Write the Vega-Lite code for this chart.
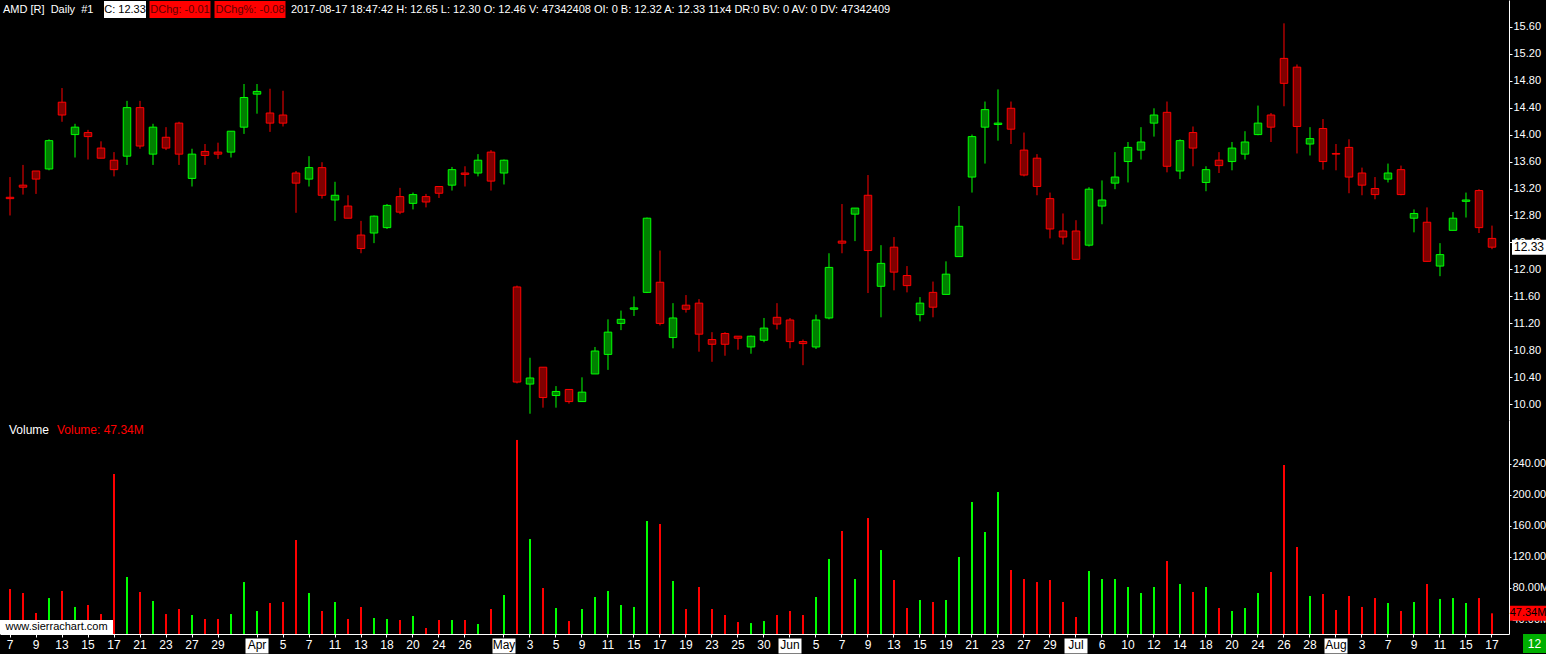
{
"$schema": "https://vega.github.io/schema/vega-lite/v6.json",
"background": "#000000",
"padding": 0,
"spacing": 0,
"config": {
  "font": "Liberation Sans",
  "view": {"stroke": null},
  "axis": {"domainColor": "#FFFFFF", "tickColor": "#FFFFFF", "labelColor": "#FFFFFF", "labelFontSize": 11, "grid": false, "domainWidth": 1, "tickWidth": 1, "titleColor": "#FFFFFF"}
},
"datasets": {"ohlc": [
{"d":"2017-03-07","o":13.07,"h":13.37,"l":12.80,"c":13.05,"v":78.6},
{"d":"2017-03-08","o":13.25,"h":13.55,"l":13.11,"c":13.22,"v":73.5},
{"d":"2017-03-09","o":13.46,"h":13.46,"l":13.12,"c":13.34,"v":47.7},
{"d":"2017-03-10","o":13.49,"h":13.93,"l":13.47,"c":13.91,"v":67.0},
{"d":"2017-03-13","o":14.48,"h":14.69,"l":14.19,"c":14.29,"v":76.1},
{"d":"2017-03-14","o":14.00,"h":14.16,"l":13.66,"c":14.11,"v":55.5},
{"d":"2017-03-15","o":14.03,"h":14.07,"l":13.63,"c":13.97,"v":58.0},
{"d":"2017-03-16","o":13.80,"h":13.90,"l":13.65,"c":13.65,"v":46.4},
{"d":"2017-03-17","o":13.62,"h":13.74,"l":13.38,"c":13.48,"v":226.7},
{"d":"2017-03-20","o":13.68,"h":14.50,"l":13.55,"c":14.40,"v":94.1},
{"d":"2017-03-21","o":14.40,"h":14.50,"l":13.79,"c":13.83,"v":74.8},
{"d":"2017-03-22","o":13.71,"h":14.16,"l":13.55,"c":14.11,"v":63.2},
{"d":"2017-03-23","o":13.96,"h":14.11,"l":13.77,"c":13.80,"v":46.4},
{"d":"2017-03-24","o":14.17,"h":14.19,"l":13.55,"c":13.71,"v":52.9},
{"d":"2017-03-27","o":13.35,"h":13.79,"l":13.23,"c":13.71,"v":45.2},
{"d":"2017-03-28","o":13.75,"h":13.86,"l":13.55,"c":13.69,"v":40.0},
{"d":"2017-03-29","o":13.74,"h":13.88,"l":13.64,"c":13.71,"v":40.0},
{"d":"2017-03-30","o":13.74,"h":14.05,"l":13.66,"c":14.05,"v":46.4},
{"d":"2017-03-31","o":14.11,"h":14.75,"l":14.01,"c":14.55,"v":87.6},
{"d":"2017-04-03","o":14.60,"h":14.75,"l":14.31,"c":14.64,"v":50.3},
{"d":"2017-04-04","o":14.32,"h":14.68,"l":14.04,"c":14.17,"v":60.6},
{"d":"2017-04-05","o":14.29,"h":14.65,"l":14.12,"c":14.17,"v":61.9},
{"d":"2017-04-06","o":13.43,"h":13.46,"l":12.84,"c":13.28,"v":141.7},
{"d":"2017-04-07","o":13.34,"h":13.68,"l":13.23,"c":13.51,"v":73.5},
{"d":"2017-04-10","o":13.51,"h":13.59,"l":13.05,"c":13.10,"v":50.3},
{"d":"2017-04-11","o":13.03,"h":13.30,"l":12.72,"c":13.10,"v":61.9},
{"d":"2017-04-12","o":12.94,"h":13.10,"l":12.76,"c":12.76,"v":40.0},
{"d":"2017-04-13","o":12.51,"h":12.72,"l":12.24,"c":12.31,"v":55.5},
{"d":"2017-04-17","o":12.54,"h":12.80,"l":12.39,"c":12.79,"v":41.3},
{"d":"2017-04-18","o":12.62,"h":12.97,"l":12.60,"c":12.95,"v":40.0},
{"d":"2017-04-19","o":13.08,"h":13.21,"l":12.82,"c":12.85,"v":38.7},
{"d":"2017-04-20","o":12.98,"h":13.14,"l":12.89,"c":13.11,"v":43.9},
{"d":"2017-04-21","o":13.08,"h":13.12,"l":12.92,"c":13.00,"v":28.4},
{"d":"2017-04-24","o":13.23,"h":13.23,"l":13.06,"c":13.13,"v":38.7},
{"d":"2017-04-25","o":13.25,"h":13.52,"l":13.17,"c":13.48,"v":38.7},
{"d":"2017-04-26","o":13.43,"h":13.53,"l":13.23,"c":13.41,"v":38.7},
{"d":"2017-04-27","o":13.43,"h":13.71,"l":13.38,"c":13.62,"v":33.6},
{"d":"2017-04-28","o":13.74,"h":13.77,"l":13.17,"c":13.31,"v":52.9},
{"d":"2017-05-01","o":13.43,"h":13.63,"l":13.26,"c":13.62,"v":70.9},
{"d":"2017-05-02","o":11.74,"h":11.76,"l":10.31,"c":10.33,"v":270.5},
{"d":"2017-05-03","o":10.30,"h":10.69,"l":9.86,"c":10.39,"v":143.0},
{"d":"2017-05-04","o":10.55,"h":10.55,"l":9.95,"c":10.10,"v":79.9},
{"d":"2017-05-05","o":10.13,"h":10.27,"l":9.95,"c":10.19,"v":54.2},
{"d":"2017-05-08","o":10.22,"h":10.22,"l":10.01,"c":10.04,"v":37.4},
{"d":"2017-05-09","o":10.04,"h":10.40,"l":10.04,"c":10.18,"v":52.9},
{"d":"2017-05-10","o":10.45,"h":10.85,"l":10.45,"c":10.79,"v":68.3},
{"d":"2017-05-11","o":10.74,"h":11.26,"l":10.51,"c":11.07,"v":76.1},
{"d":"2017-05-12","o":11.20,"h":11.39,"l":11.10,"c":11.26,"v":58.0},
{"d":"2017-05-15","o":11.41,"h":11.60,"l":11.31,"c":11.43,"v":55.5},
{"d":"2017-05-16","o":11.66,"h":12.77,"l":11.65,"c":12.76,"v":166.2},
{"d":"2017-05-17","o":11.81,"h":12.28,"l":11.17,"c":11.20,"v":162.3},
{"d":"2017-05-18","o":10.99,"h":11.50,"l":10.83,"c":11.28,"v":88.9},
{"d":"2017-05-19","o":11.47,"h":11.62,"l":11.36,"c":11.41,"v":52.9},
{"d":"2017-05-22","o":11.50,"h":11.56,"l":10.78,"c":11.04,"v":81.2},
{"d":"2017-05-23","o":10.96,"h":11.07,"l":10.63,"c":10.89,"v":52.9},
{"d":"2017-05-24","o":11.05,"h":11.07,"l":10.72,"c":10.89,"v":45.2},
{"d":"2017-05-25","o":11.01,"h":11.01,"l":10.81,"c":10.98,"v":36.1},
{"d":"2017-05-26","o":10.85,"h":11.02,"l":10.75,"c":11.01,"v":34.8},
{"d":"2017-05-30","o":10.95,"h":11.28,"l":10.92,"c":11.13,"v":37.4},
{"d":"2017-05-31","o":11.29,"h":11.50,"l":11.11,"c":11.19,"v":45.2},
{"d":"2017-06-01","o":11.25,"h":11.28,"l":10.83,"c":10.93,"v":50.3},
{"d":"2017-06-02","o":10.93,"h":10.96,"l":10.58,"c":10.90,"v":45.2},
{"d":"2017-06-05","o":10.85,"h":11.33,"l":10.82,"c":11.25,"v":68.3},
{"d":"2017-06-06","o":11.28,"h":12.24,"l":11.26,"c":12.03,"v":117.3},
{"d":"2017-06-07","o":12.42,"h":12.97,"l":12.24,"c":12.39,"v":153.3},
{"d":"2017-06-08","o":12.82,"h":12.91,"l":12.42,"c":12.91,"v":91.5},
{"d":"2017-06-09","o":13.10,"h":13.40,"l":11.65,"c":12.28,"v":170.0},
{"d":"2017-06-12","o":11.75,"h":12.36,"l":11.29,"c":12.09,"v":128.8},
{"d":"2017-06-13","o":12.33,"h":12.48,"l":11.69,"c":11.96,"v":90.2},
{"d":"2017-06-14","o":11.91,"h":12.05,"l":11.66,"c":11.76,"v":54.2},
{"d":"2017-06-15","o":11.33,"h":11.59,"l":11.23,"c":11.50,"v":64.5},
{"d":"2017-06-16","o":11.66,"h":11.82,"l":11.29,"c":11.44,"v":61.9},
{"d":"2017-06-19","o":11.63,"h":12.12,"l":11.63,"c":11.93,"v":64.5},
{"d":"2017-06-20","o":12.19,"h":12.94,"l":12.19,"c":12.64,"v":119.8},
{"d":"2017-06-21","o":13.37,"h":14.00,"l":13.14,"c":13.97,"v":190.6},
{"d":"2017-06-22","o":14.11,"h":14.49,"l":13.57,"c":14.37,"v":152.0},
{"d":"2017-06-23","o":14.15,"h":14.67,"l":13.91,"c":14.17,"v":203.5},
{"d":"2017-06-26","o":14.39,"h":14.49,"l":13.86,"c":14.08,"v":103.1},
{"d":"2017-06-27","o":13.77,"h":14.03,"l":13.38,"c":13.40,"v":91.5},
{"d":"2017-06-28","o":13.65,"h":13.71,"l":13.10,"c":13.23,"v":87.6},
{"d":"2017-06-29","o":13.05,"h":13.14,"l":12.46,"c":12.60,"v":90.2},
{"d":"2017-06-30","o":12.57,"h":12.83,"l":12.37,"c":12.48,"v":61.9},
{"d":"2017-07-03","o":12.57,"h":12.73,"l":12.15,"c":12.15,"v":42.6},
{"d":"2017-07-05","o":12.36,"h":13.22,"l":12.34,"c":13.19,"v":101.8},
{"d":"2017-07-06","o":12.94,"h":13.32,"l":12.67,"c":13.03,"v":91.5},
{"d":"2017-07-07","o":13.28,"h":13.74,"l":13.19,"c":13.37,"v":91.5},
{"d":"2017-07-10","o":13.60,"h":13.89,"l":13.29,"c":13.81,"v":81.2},
{"d":"2017-07-11","o":13.77,"h":14.11,"l":13.63,"c":13.89,"v":73.5},
{"d":"2017-07-12","o":14.17,"h":14.39,"l":13.97,"c":14.29,"v":81.2},
{"d":"2017-07-13","o":14.33,"h":14.49,"l":13.44,"c":13.53,"v":114.7},
{"d":"2017-07-14","o":13.46,"h":13.93,"l":13.34,"c":13.91,"v":85.1},
{"d":"2017-07-17","o":14.03,"h":14.12,"l":13.53,"c":13.80,"v":74.8},
{"d":"2017-07-18","o":13.29,"h":13.53,"l":13.16,"c":13.48,"v":81.2},
{"d":"2017-07-19","o":13.62,"h":13.74,"l":13.43,"c":13.54,"v":54.2},
{"d":"2017-07-20","o":13.60,"h":13.89,"l":13.47,"c":13.80,"v":50.3},
{"d":"2017-07-21","o":13.71,"h":14.05,"l":13.63,"c":13.89,"v":54.2},
{"d":"2017-07-24","o":14.00,"h":14.43,"l":13.99,"c":14.17,"v":73.5},
{"d":"2017-07-25","o":14.29,"h":14.32,"l":13.89,"c":14.11,"v":100.5},
{"d":"2017-07-26","o":15.13,"h":15.65,"l":14.42,"c":14.76,"v":238.3},
{"d":"2017-07-27","o":15.00,"h":15.04,"l":13.72,"c":14.12,"v":132.7},
{"d":"2017-07-28","o":13.86,"h":14.11,"l":13.69,"c":13.94,"v":69.6},
{"d":"2017-07-31","o":14.09,"h":14.23,"l":13.48,"c":13.60,"v":72.2},
{"d":"2017-08-01","o":13.72,"h":13.86,"l":13.47,"c":13.71,"v":51.6},
{"d":"2017-08-02","o":13.81,"h":13.93,"l":13.13,"c":13.37,"v":69.6},
{"d":"2017-08-03","o":13.43,"h":13.51,"l":13.10,"c":13.25,"v":55.5},
{"d":"2017-08-04","o":13.20,"h":13.37,"l":13.04,"c":13.11,"v":67.0},
{"d":"2017-08-07","o":13.34,"h":13.57,"l":13.29,"c":13.43,"v":60.6},
{"d":"2017-08-08","o":13.48,"h":13.54,"l":13.10,"c":13.11,"v":50.3},
{"d":"2017-08-09","o":12.76,"h":12.89,"l":12.55,"c":12.83,"v":61.9},
{"d":"2017-08-10","o":12.70,"h":12.92,"l":12.12,"c":12.12,"v":85.1},
{"d":"2017-08-11","o":12.05,"h":12.39,"l":11.90,"c":12.22,"v":65.8},
{"d":"2017-08-14","o":12.58,"h":12.85,"l":12.58,"c":12.76,"v":67.0},
{"d":"2017-08-15","o":13.01,"h":13.14,"l":12.77,"c":13.03,"v":60.6},
{"d":"2017-08-16","o":13.17,"h":13.19,"l":12.54,"c":12.62,"v":67.0},
{"d":"2017-08-17","o":12.46,"h":12.65,"l":12.30,"c":12.33,"v":47.34}
]},
"vconcat": [
{
  "width": 1509,
  "height": 420,
  "data": {"name": "ohlc"},
  "encoding": {
    "x": {"field": "d", "type": "ordinal", "scale": {"paddingInner": 0.423, "paddingOuter": 0.75, "align": 0.3205}, "axis": null}
  },
  "layer": [
    {
      "mark": {"type": "rule", "strokeWidth": 1},
      "encoding": {
        "y": {"field": "l", "type": "quantitative", "scale": {"domain": [9.767, 15.996], "nice": false, "zero": false},
              "axis": {"orient": "right", "values": [10, 10.4, 10.8, 11.2, 11.6, 12, 12.4, 12.8, 13.2, 13.6, 14, 14.4, 14.8, 15.2, 15.6], "tickCount": 30, "format": ".2f", "tickSize": 3, "labelPadding": 1, "labelOverlap": false, "title": null}},
        "y2": {"field": "h"},
        "color": {"condition": {"test": "datum.c < datum.o", "value": "#FF0000"}, "value": "#00FF00"}
      }
    },
    {
      "mark": {"type": "bar", "strokeWidth": 1},
      "encoding": {
        "y": {"field": "o", "type": "quantitative"},
        "y2": {"field": "c"},
        "fill": {"condition": {"test": "datum.c < datum.o", "value": "#800000"}, "value": "#008000"},
        "stroke": {"condition": {"test": "datum.c < datum.o", "value": "#FF0000"}, "value": "#00FF00"}
      }
    },
    {
      "transform": [{"filter": "datum.d == '2017-08-17'"}],
      "mark": {"type": "point", "shape": "M-1,-0.44 L1,-0.44 L1,0.44 L-1,0.44 Z", "size": 1156, "filled": true, "fill": "#FFFFFF", "opacity": 1, "strokeWidth": 0, "xOffset": 37},
      "encoding": {"y": {"field": "c", "type": "quantitative"}}
    },
    {
      "transform": [{"filter": "datum.d == '2017-08-17'"}],
      "mark": {"type": "text", "color": "#000000", "fontSize": 12, "xOffset": 37, "align": "center", "baseline": "middle"},
      "encoding": {"y": {"field": "c", "type": "quantitative"}, "text": {"field": "c", "type": "quantitative", "format": ".2f"}}
    },
    {
      "transform": [{"filter": "datum.d == '2017-03-07'"}],
      "mark": {"type": "text", "color": "#FFFFFF", "fontSize": 11, "xOffset": -7, "yOffset": 9.5, "align": "left", "baseline": "middle", "text": "AMD [R]\u00a0\u00a0Daily\u00a0\u00a0#1"},
      "encoding": {"y": {"datum": 15.996}}
    },
    {
      "transform": [{"filter": "datum.d == '2017-03-07'"}],
      "mark": {"type": "point", "shape": "M-1,-0.41 L1,-0.41 L1,0.41 L-1,0.41 Z", "size": 1764, "filled": true, "fill": "#FFFFFF", "opacity": 1, "strokeWidth": 0, "xOffset": 115, "yOffset": 9.5},
      "encoding": {"y": {"datum": 15.996}}
    },
    {
      "transform": [{"filter": "datum.d == '2017-03-07'"}],
      "mark": {"type": "text", "color": "#000000", "fontSize": 11, "xOffset": 115, "yOffset": 9.5, "align": "center", "baseline": "middle", "text": "C: 12.33"},
      "encoding": {"y": {"datum": 15.996}}
    },
    {
      "transform": [{"filter": "datum.d == '2017-03-07'"}],
      "mark": {"type": "point", "shape": "M-1,-0.279 L1,-0.279 L1,0.279 L-1,0.279 Z", "size": 3721, "filled": true, "fill": "#FF0000", "opacity": 1, "strokeWidth": 0, "xOffset": 170, "yOffset": 9.5},
      "encoding": {"y": {"datum": 15.996}}
    },
    {
      "transform": [{"filter": "datum.d == '2017-03-07'"}],
      "mark": {"type": "text", "color": "#600000", "fontSize": 11, "xOffset": 170, "yOffset": 9.5, "align": "center", "baseline": "middle", "text": "DChg: -0.01"},
      "encoding": {"y": {"datum": 15.996}}
    },
    {
      "transform": [{"filter": "datum.d == '2017-03-07'"}],
      "mark": {"type": "point", "shape": "M-1,-0.239 L1,-0.239 L1,0.239 L-1,0.239 Z", "size": 5041, "filled": true, "fill": "#FF0000", "opacity": 1, "strokeWidth": 0, "xOffset": 240, "yOffset": 9.5},
      "encoding": {"y": {"datum": 15.996}}
    },
    {
      "transform": [{"filter": "datum.d == '2017-03-07'"}],
      "mark": {"type": "text", "color": "#600000", "fontSize": 11, "xOffset": 240, "yOffset": 9.5, "align": "center", "baseline": "middle", "text": "DChg%: -0.08"},
      "encoding": {"y": {"datum": 15.996}}
    },
    {
      "transform": [{"filter": "datum.d == '2017-03-07'"}],
      "mark": {"type": "text", "color": "#FFFFFF", "fontSize": 11, "xOffset": 281, "yOffset": 9.5, "align": "left", "baseline": "middle", "text": "2017-08-17 18:47:42 H: 12.65 L: 12.30 O: 12.46 V: 47342408 OI: 0 B: 12.32 A: 12.33 11x4 DR:0 BV: 0 AV: 0 DV: 47342409"},
      "encoding": {"y": {"datum": 15.996}}
    }
  ]
},
{
  "width": 1509,
  "height": 214,
  "data": {"name": "ohlc"},
  "encoding": {
    "x": {"field": "d", "type": "ordinal", "scale": {"paddingInner": 0.423, "paddingOuter": 0.75, "align": 0.3205},
          "axis": {"values": ["2017-03-07","2017-03-09","2017-03-13","2017-03-15","2017-03-17","2017-03-21","2017-03-23","2017-03-27","2017-03-29","2017-04-03","2017-04-05","2017-04-07","2017-04-11","2017-04-13","2017-04-18","2017-04-20","2017-04-24","2017-04-26","2017-05-01","2017-05-03","2017-05-05","2017-05-09","2017-05-11","2017-05-15","2017-05-17","2017-05-19","2017-05-23","2017-05-25","2017-05-30","2017-06-01","2017-06-05","2017-06-07","2017-06-09","2017-06-13","2017-06-15","2017-06-19","2017-06-21","2017-06-23","2017-06-27","2017-06-29","2017-07-03","2017-07-06","2017-07-10","2017-07-12","2017-07-14","2017-07-18","2017-07-20","2017-07-24","2017-07-26","2017-07-28","2017-08-01","2017-08-03","2017-08-07","2017-08-09","2017-08-11","2017-08-15","2017-08-17"],
                   "labelExpr": "indexof(['2017-04-03','2017-05-01','2017-06-01','2017-07-03','2017-08-01'], datum.value) >= 0 ? utcFormat(toDate(datum.value), '%b') : '' + parseInt(slice(datum.value, 8))",
                   "labelColor": {"condition": {"test": "indexof(['2017-04-03','2017-05-01','2017-06-01','2017-07-03','2017-08-01'], datum.value) >= 0", "value": "#000000"}, "value": "#FFFFFF"},
                   "labelAngle": 0, "labelOverlap": false, "labelFontSize": 12, "tickSize": 3, "labelPadding": 2, "title": null, "zindex": 1}}
  },
  "layer": [
    {
      "mark": {"type": "bar", "size": 2},
      "encoding": {
        "y": {"field": "v", "type": "quantitative", "scale": {"domain": [20.7, 296.2], "nice": false, "zero": false},
              "axis": {"orient": "right", "values": [40, 80, 120, 160, 200, 240], "tickCount": 30, "labelExpr": "datum.value >= 100 ? format(datum.value, '.2f') : format(datum.value, '.2f') + 'M'", "tickSize": 2, "labelPadding": 1, "labelOverlap": false, "title": null}},
        "y2": {"datum": 20.7},
        "color": {"condition": {"test": "datum.c < datum.o", "value": "#FF0000"}, "value": "#00FF00"}
      }
    },
    {
      "transform": [{"filter": "datum.d == '2017-03-07'"}],
      "mark": {"type": "text", "color": "#FFFFFF", "fontSize": 12, "xOffset": -1, "yOffset": 10, "align": "left", "baseline": "middle", "text": "Volume"},
      "encoding": {"y": {"datum": 296.2}}
    },
    {
      "transform": [{"filter": "datum.d == '2017-03-07'"}],
      "mark": {"type": "text", "color": "#FF0000", "fontSize": 12, "xOffset": 47, "yOffset": 10, "align": "left", "baseline": "middle", "text": "Volume: 47.34M"},
      "encoding": {"y": {"datum": 296.2}}
    },
    {
      "transform": [{"filter": "datum.d == '2017-03-07'"}],
      "mark": {"type": "point", "shape": "M-1,-0.124 L1,-0.124 L1,0.124 L-1,0.124 Z", "size": 12769, "filled": true, "fill": "#FFFFFF", "opacity": 1, "strokeWidth": 0, "xOffset": 46.5, "yOffset": -7},
      "encoding": {"y": {"datum": 20.7}}
    },
    {
      "transform": [{"filter": "datum.d == '2017-03-07'"}],
      "mark": {"type": "text", "color": "#000000", "fontSize": 11, "xOffset": 46.5, "yOffset": -7, "align": "center", "baseline": "middle", "text": "www.sierrachart.com"},
      "encoding": {"y": {"datum": 20.7}}
    },
    {
      "transform": [{"filter": "indexof(['2017-04-03','2017-05-01','2017-06-01','2017-07-03','2017-08-01'], datum.d) >= 0"}],
      "mark": {"type": "point", "shape": "M-1,-0.652 L1,-0.652 L1,0.652 L-1,0.652 Z", "size": 529, "filled": true, "fill": "#FFFFFF", "opacity": 1, "strokeWidth": 0, "yOffset": 12},
      "encoding": {"y": {"datum": 20.7}}
    },
    {
      "transform": [{"filter": "datum.d == '2017-08-17'"}],
      "mark": {"type": "point", "shape": "M-1,-0.417 L1,-0.417 L1,0.417 L-1,0.417 Z", "size": 1296, "filled": true, "fill": "#FF0000", "opacity": 1, "strokeWidth": 0, "xOffset": 36},
      "encoding": {"y": {"field": "v", "type": "quantitative"}}
    },
    {
      "transform": [{"filter": "datum.d == '2017-08-17'"}],
      "mark": {"type": "text", "color": "#000000", "fontSize": 11, "xOffset": 36, "align": "center", "baseline": "middle", "text": "47.34M"},
      "encoding": {"y": {"field": "v", "type": "quantitative"}}
    },
    {
      "transform": [{"filter": "datum.d == '2017-08-17'"}],
      "mark": {"type": "point", "shape": "M-1,-0.826 L1,-0.826 L1,0.826 L-1,0.826 Z", "size": 529, "filled": true, "fill": "#00B000", "opacity": 1, "strokeWidth": 0, "xOffset": 42.5, "yOffset": 9.5},
      "encoding": {"y": {"datum": 20.7}}
    },
    {
      "transform": [{"filter": "datum.d == '2017-08-17'"}],
      "mark": {"type": "text", "color": "#FFFFFF", "fontSize": 12, "xOffset": 42.5, "yOffset": 9.5, "align": "center", "baseline": "middle", "text": "12"},
      "encoding": {"y": {"datum": 20.7}}
    }
  ]
}
]
}
